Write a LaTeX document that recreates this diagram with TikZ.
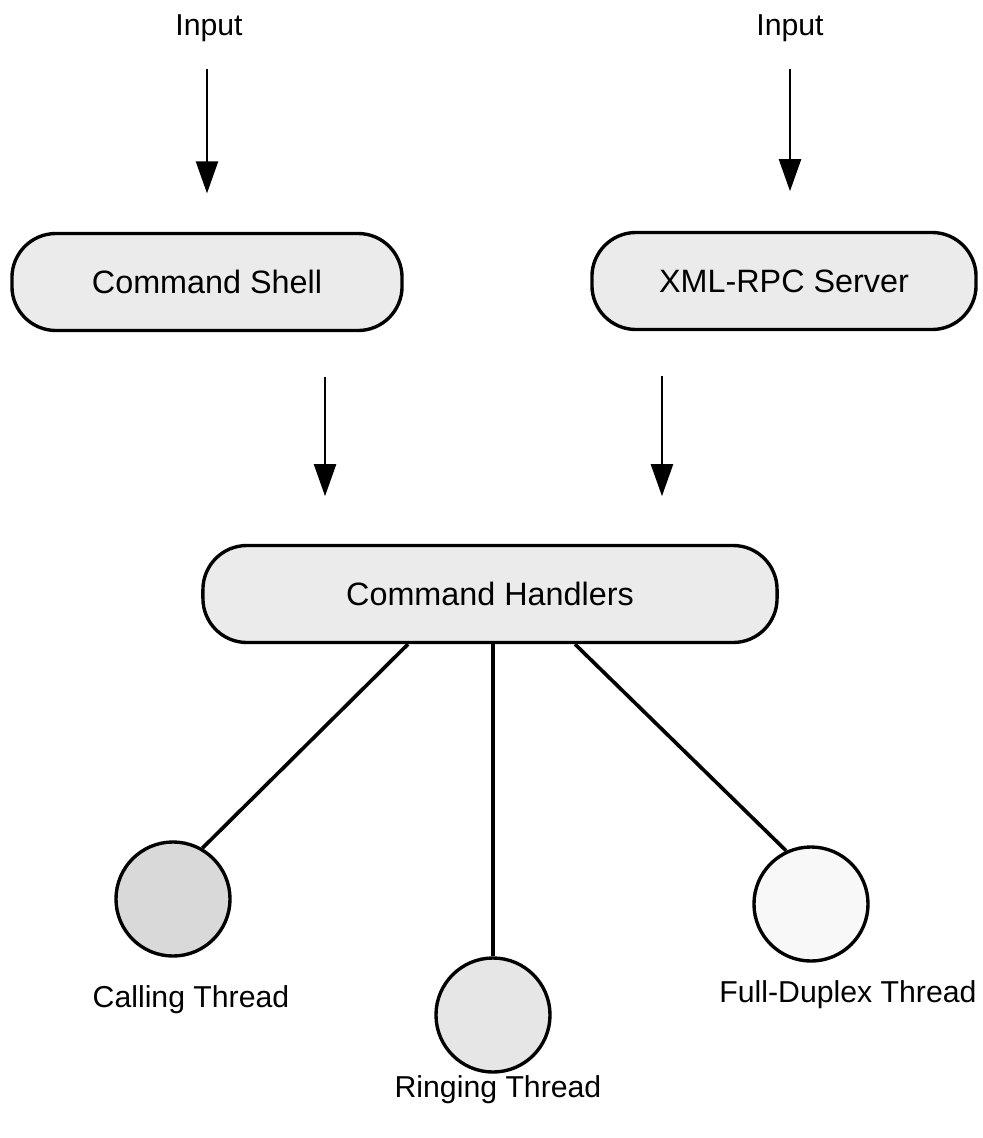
\documentclass[tikz,border=0pt]{standalone}
\usepackage{fontspec}
\setmainfont{Liberation Sans}
\usetikzlibrary{arrows.meta}
\definecolor{pillfill}{HTML}{EBEBEB}
\definecolor{callfill}{HTML}{D9D9D9}
\definecolor{ringfill}{HTML}{E6E6E6}
\definecolor{duplexfill}{HTML}{F8F8F8}
\begin{document}
\begin{tikzpicture}[x=0.025cm, y=-0.025cm,
  pill/.style={draw, line width=2.4pt, fill=pillfill, rounded corners=1.1cm,
    minimum height=2.425cm, font=\fontsize{23}{27}\selectfont},
  thr/.style={draw, circle, line width=2.4pt, minimum size=2.85cm, inner sep=0pt},
  lbl/.style={font=\fontsize{21.5}{26}\selectfont, inner sep=0pt},
  feed/.style={line width=1.6pt, -{Triangle[length=0.8cm, width=0.55cm]}},
  link/.style={line width=2.6pt}]
\useasboundingbox (0,0) rectangle (982,1138);

% inputs and front ends
\node[lbl] (in1) at (209,28) {Input};
\node[lbl] (in2) at (790,28) {Input};
\node[pill, minimum width=9.75cm] (shell) at (207,282) {Command Shell};
\node[pill, minimum width=9.6cm] (xmlrpc) at (784,281) {XML-RPC Server};
\node[pill, minimum width=14.35cm] (handlers) at (490,594) {Command Handlers};

% threads
\node[thr, fill=callfill] (calling) at (173,899) {};
\node[thr, fill=ringfill] (ringing) at (493,1015) {};
\node[thr, fill=duplexfill] (duplex) at (811,904) {};
\node[lbl] (callinglbl) at (191,1000) {Calling Thread};
\node[lbl] (ringinglbl) at (498,1090) {Ringing Thread};
\node[lbl] (duplexlbl) at (848,995) {Full-Duplex Thread};

\draw[feed, shorten <=0.69cm, shorten >=0.96cm] ([xshift=-0.05cm]in1.south) -- ([xshift=-0.05cm]in1.south |- shell.north);
\draw[feed, shorten <=0.69cm, shorten >=0.99cm] (in2.south) -- (in2.south |- xmlrpc.north);
\draw[feed, shorten <=1.11cm, shorten >=1.19cm] ([xshift=2.95cm]shell.south) -- ([xshift=2.95cm]shell.south |- handlers.north);
\draw[feed, shorten <=1.11cm, shorten >=1.19cm] ([xshift=-3.05cm]xmlrpc.south) -- ([xshift=-3.05cm]xmlrpc.south |- handlers.north);

\draw[link] ([xshift=-2.05cm]handlers.south) -- (calling.60);
\draw[link] (handlers.south -| ringing.north) -- (ringing.north);
\draw[link] ([xshift=2.125cm]handlers.south) -- (duplex.115);
\end{tikzpicture}
\end{document}
